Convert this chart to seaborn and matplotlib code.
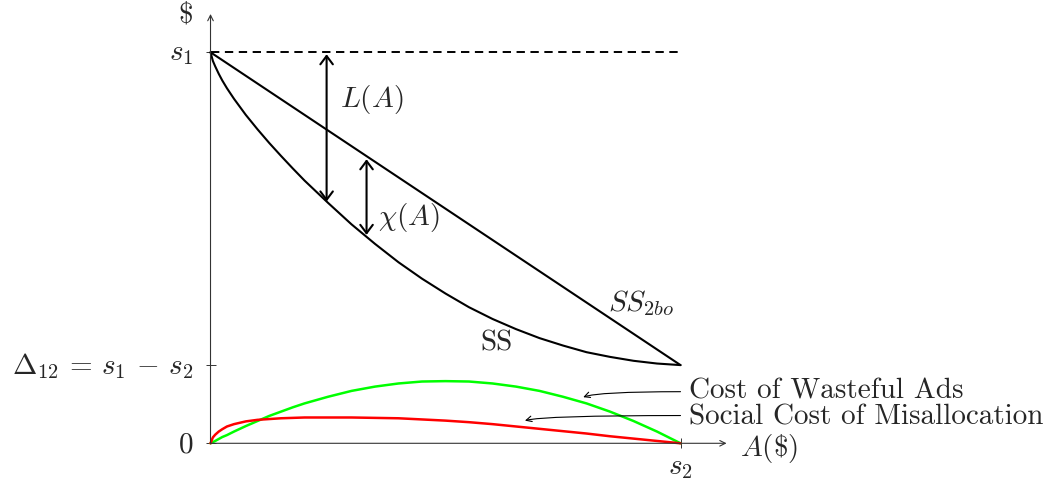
import numpy as np
import matplotlib
matplotlib.use("Agg")
import matplotlib.pyplot as plt
import seaborn as sns

# values: A in units of s2, $ in units of s1
a_grid = [0, 0.005, 0.01, 0.0175, 0.025, 0.035, 0.05, 0.075, 0.1, 0.125, 0.15,
          0.175, 0.2, 0.25, 0.3, 0.35, 0.4, 0.45, 0.5, 0.55, 0.6, 0.65, 0.7,
          0.75, 0.8, 0.85, 0.9, 0.95, 1.0]
ss_vals = [1.0, 0.978, 0.964, 0.945, 0.928, 0.908, 0.881, 0.840, 0.803, 0.768,
           0.735, 0.703, 0.672, 0.615, 0.560, 0.510, 0.463, 0.421, 0.383,
           0.348, 0.318, 0.292, 0.269, 0.250, 0.233, 0.221, 0.211, 0.204, 0.200]
wasteful_vals = [0, 0.003, 0.006, 0.011, 0.016, 0.021, 0.030, 0.044, 0.057,
                 0.070, 0.081, 0.092, 0.102, 0.119, 0.134, 0.145, 0.153, 0.158,
                 0.159, 0.158, 0.153, 0.145, 0.134, 0.119, 0.102, 0.081, 0.057,
                 0.030, 0]
misalloc_vals = [0, 0.015, 0.022, 0.030, 0.036, 0.043, 0.049, 0.056, 0.060,
                 0.062, 0.064, 0.065, 0.066, 0.066, 0.066, 0.065, 0.064, 0.061,
                 0.058, 0.054, 0.049, 0.043, 0.037, 0.031, 0.025, 0.018, 0.012,
                 0.006, 0]
ss2bo_a = [0, 1.0]
ss2bo_vals = [1.0, 0.2]

s1 = 1.0
s2 = 1.0
delta12 = 0.2
y_ticks = [0, delta12, s1]
y_tick_labels = ["$0$", r"$\Delta_{12}\,=\,s_1\,-\,s_2$", "$s_1$"]

# where the two double arrows stand
l_arrow_a = 0.247
chi_arrow_a = 0.332

sns.set_style("white")
plt.rcParams["mathtext.fontset"] = "cm"
plt.rcParams["lines.scale_dashes"] = False
plt.rcParams["lines.solid_joinstyle"] = "round"

fig = plt.figure(figsize=(10.52, 4.85), dpi=100)
ax = fig.add_axes([0, 0, 1, 1])
ax.set_xlim(-0.4479, 1.7904)
ax.set_ylim(-0.1041, 1.1363)
ax.axis("off")

axis_col = "#333333"
# axes with arrow heads
ax.annotate("", xy=(1.098, 0), xytext=(0, 0),
            arrowprops=dict(arrowstyle="->", lw=0.8, color=axis_col, shrinkA=0, shrinkB=0))
ax.annotate("", xy=(0, 1.098), xytext=(0, 0),
            arrowprops=dict(arrowstyle="->", lw=0.8, color=axis_col, shrinkA=0, shrinkB=0))
ax.plot([0] * len(y_ticks), y_ticks, ls="none", marker="_", ms=7, mew=0.7, color=axis_col)
ax.plot([s2], [0], ls="none", marker="|", ms=7, mew=0.7, color=axis_col)

# dashed s1 level
ax.plot([0, s2], [s1, s1], color="black", lw=1.4, dashes=(6, 4))

# curves
sns.lineplot(x=ss2bo_a, y=ss2bo_vals, ax=ax, color="black", lw=1.5, estimator=None)
sns.lineplot(x=a_grid, y=ss_vals, ax=ax, color="black", lw=1.5, estimator=None)
sns.lineplot(x=a_grid, y=wasteful_vals, ax=ax, color="#00ff00", lw=1.8, estimator=None)
sns.lineplot(x=a_grid, y=misalloc_vals, ax=ax, color="#ff0000", lw=1.8, estimator=None)

# double arrows L(A) and chi(A)
dbl = dict(arrowstyle="<->,head_length=0.4,head_width=0.3", lw=1.5, color="black",
           shrinkA=0, shrinkB=0, mutation_scale=15)
ss_at_l = np.interp(l_arrow_a, a_grid, ss_vals)
ax.annotate("", xy=(l_arrow_a, ss_at_l), xytext=(l_arrow_a, s1 - 0.005), arrowprops=dbl)
line_at_chi = np.interp(chi_arrow_a, ss2bo_a, ss2bo_vals)
ss_at_chi = np.interp(chi_arrow_a, a_grid, ss_vals)
ax.annotate("", xy=(chi_arrow_a, ss_at_chi + 0.005), xytext=(chi_arrow_a, line_at_chi - 0.008),
            arrowprops=dbl)

fs = 21
ax.text(0.275, 0.881, "$L(A)$", fontsize=fs, va="center", ha="left")
ax.text(0.356, 0.579, r"$\chi(A)$", fontsize=fs, va="center", ha="left")
ax.text(0.846, 0.362, "$SS_{2bo}$", fontsize=fs, va="center", ha="left")
ax.text(0.609, 0.259, "SS", fontsize=fs, va="center", ha="center", family="cmr10")

# axis labels
ax.text(-0.054, 1.098, r"\$", fontsize=fs, va="center", ha="center", family="cmr10")
ax.text(1.126, -0.01, r"$A(\$)$", fontsize=fs, va="center", ha="left")
for yv, lab in zip(y_ticks, y_tick_labels):
    ax.text(-0.037, yv, lab, fontsize=fs, va="center", ha="right")
ax.text(s2, -0.022, "$s_2$", fontsize=fs, va="top", ha="center")

# notes with curved pointers
ax.text(1.018, 0.135, "Cost of Wasteful Ads", fontsize=fs, va="center", ha="left", family="cmr10")
ax.text(1.018, 0.068, "Social Cost of Misallocation", fontsize=fs, va="center", ha="left", family="cmr10")
ax.annotate("", xy=(0.793, 0.118), xytext=(1.0, 0.132),
            arrowprops=dict(arrowstyle="->", lw=0.8, color="black", shrinkA=0, shrinkB=0,
                            connectionstyle="angle3,angleA=0,angleB=20"))
ax.annotate("", xy=(0.669, 0.058), xytext=(1.0, 0.071),
            arrowprops=dict(arrowstyle="->", lw=0.8, color="black", shrinkA=0, shrinkB=0,
                            connectionstyle="angle3,angleA=0,angleB=15"))

fig.savefig("out.png", dpi=100)
